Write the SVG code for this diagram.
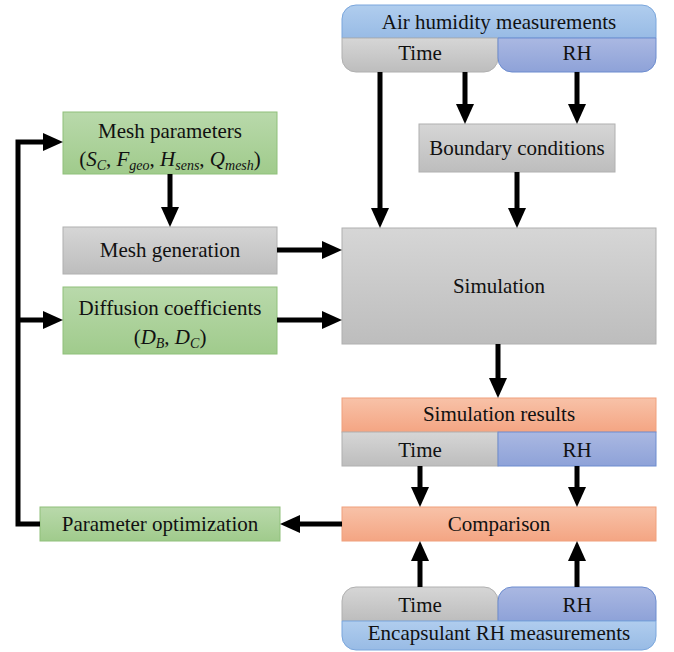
<svg xmlns="http://www.w3.org/2000/svg" width="674" height="652" viewBox="0 0 674 652" font-family="'Liberation Serif', 'Times New Roman', 'DejaVu Serif', serif">
<defs>
<linearGradient id="gGreen" x1="0" y1="0" x2="0" y2="1"><stop offset="0" stop-color="#b9d9ab"/><stop offset="1" stop-color="#a0cb8c"/></linearGradient>
<linearGradient id="gGray" x1="0" y1="0" x2="0" y2="1"><stop offset="0" stop-color="#d6d6d6"/><stop offset="1" stop-color="#bdbdbd"/></linearGradient>
<linearGradient id="gOrange" x1="0" y1="0" x2="0" y2="1"><stop offset="0" stop-color="#f8c2a8"/><stop offset="1" stop-color="#f4a583"/></linearGradient>
<linearGradient id="gBlue" x1="0" y1="0" x2="0" y2="1"><stop offset="0" stop-color="#b0cdee"/><stop offset="1" stop-color="#98bbe5"/></linearGradient>
<linearGradient id="gRH" x1="0" y1="0" x2="0" y2="1"><stop offset="0" stop-color="#aab8e2"/><stop offset="1" stop-color="#8ea2d8"/></linearGradient>
<marker id="ah" viewBox="0 0 20 18" refX="9" refY="9" markerWidth="20" markerHeight="18" markerUnits="userSpaceOnUse" orient="auto">
<path d="M0,0 L20,9 L0,18 Z" fill="#000"/>
</marker>
<style>
text{font-family:"Liberation Serif","Times New Roman","DejaVu Serif",serif;font-size:21px;fill:#111;text-anchor:middle}
.green{fill:url(#gGreen);stroke:#8fc07a;stroke-width:1}
.gray{fill:url(#gGray);stroke:#b0b0b0;stroke-width:1}
.orange{fill:url(#gOrange);stroke:#f0a07c;stroke-width:1}
.blue{fill:url(#gBlue);stroke:#7aa6dc;stroke-width:1}
.rh{fill:url(#gRH);stroke:#6c8ccf;stroke-width:1}
.con{fill:none;stroke:#000;stroke-width:5;marker-end:url(#ah)}
.sub{font-size:14px}
</style>
</defs>
<rect width="674" height="652" fill="#fff"/>

<g id="air-humidity">
<path class="blue" d="M342,38 V19 a14,14 0 0 1 14,-14 H642 a14,14 0 0 1 14,14 V38 Z"/>
<path class="gray" d="M342,38 H498 V58 a14,14 0 0 1 -14,14 H356 a14,14 0 0 1 -14,-14 Z"/>
<path class="rh" d="M498,38 H656 V58 a14,14 0 0 1 -14,14 H512 a14,14 0 0 1 -14,-14 Z"/>
<text x="499" y="29">Air humidity measurements</text>
<text x="420" y="60">Time</text>
<text x="577" y="60">RH</text>
</g>

<g id="boundary-conditions">
<rect class="gray" x="419" y="124" width="196" height="48"/>
<text x="517" y="155">Boundary conditions</text>
</g>

<g id="simulation">
<rect class="gray" x="342" y="228" width="314" height="116"/>
<text x="499" y="293">Simulation</text>
</g>

<g id="mesh-parameters">
<rect class="green" x="63" y="112" width="214" height="62"/>
<text x="170" y="138">Mesh parameters</text>
<text x="170" y="166">(<tspan font-style="italic">S</tspan><tspan class="sub" font-style="italic" dy="4">C</tspan><tspan dy="-4">, </tspan><tspan font-style="italic">F</tspan><tspan class="sub" font-style="italic" dy="4">geo</tspan><tspan dy="-4">, </tspan><tspan font-style="italic">H</tspan><tspan class="sub" font-style="italic" dy="4">sens</tspan><tspan dy="-4">, </tspan><tspan font-style="italic">Q</tspan><tspan class="sub" font-style="italic" dy="4">mesh</tspan><tspan dy="-4">)</tspan></text>
</g>

<g id="mesh-generation">
<rect class="gray" x="63" y="227" width="214" height="47"/>
<text x="170" y="257">Mesh generation</text>
</g>

<g id="diffusion-coefficients">
<rect class="green" x="63" y="287" width="214" height="67"/>
<text x="170" y="315">Diffusion coefficients</text>
<text x="170" y="344">(<tspan font-style="italic">D</tspan><tspan class="sub" font-style="italic" dy="4">B</tspan><tspan dy="-4">, </tspan><tspan font-style="italic">D</tspan><tspan class="sub" font-style="italic" dy="4">C</tspan><tspan dy="-4">)</tspan></text>
</g>

<g id="simulation-results">
<rect class="orange" x="342" y="398" width="314" height="34"/>
<rect class="gray" x="342" y="432" width="156" height="34"/>
<rect class="rh" x="498" y="432" width="158" height="34"/>
<text x="499" y="421">Simulation results</text>
<text x="420" y="457">Time</text>
<text x="577" y="457">RH</text>
</g>

<g id="comparison">
<rect class="orange" x="342" y="507" width="314" height="34"/>
<text x="499" y="531">Comparison</text>
</g>

<g id="parameter-optimization">
<rect class="green" x="40" y="507" width="240" height="34"/>
<text x="160" y="531">Parameter optimization</text>
</g>

<g id="encapsulant-measurements">
<path class="gray" d="M342,621 V601 a14,14 0 0 1 14,-14 H484 a14,14 0 0 1 14,14 V621 Z"/>
<path class="rh" d="M498,621 V601 a14,14 0 0 1 14,-14 H642 a14,14 0 0 1 14,14 V621 Z"/>
<path class="blue" d="M342,621 H656 V636 a14,14 0 0 1 -14,14 H356 a14,14 0 0 1 -14,-14 Z"/>
<text x="420" y="612">Time</text>
<text x="577" y="612">RH</text>
<text x="499" y="640">Encapsulant RH measurements</text>
</g>

<g id="connectors">
<path class="con" d="M380,72 V217"/>
<path class="con" d="M465,72 V113"/>
<path class="con" d="M577,72 V113"/>
<path class="con" d="M517,172 V217"/>
<path class="con" d="M170,174 V216"/>
<path class="con" d="M277,250 H331"/>
<path class="con" d="M277,320 H331"/>
<path class="con" d="M498,344 V387"/>
<path class="con" d="M420,466 V496"/>
<path class="con" d="M577,466 V496"/>
<path class="con" d="M420,587 V552"/>
<path class="con" d="M577,587 V552"/>
<path class="con" d="M342,524 H291"/>
<path class="con" d="M40,524 H18 V142 H52"/>
<path class="con" d="M18,320 H52"/>
</g>
</svg>
